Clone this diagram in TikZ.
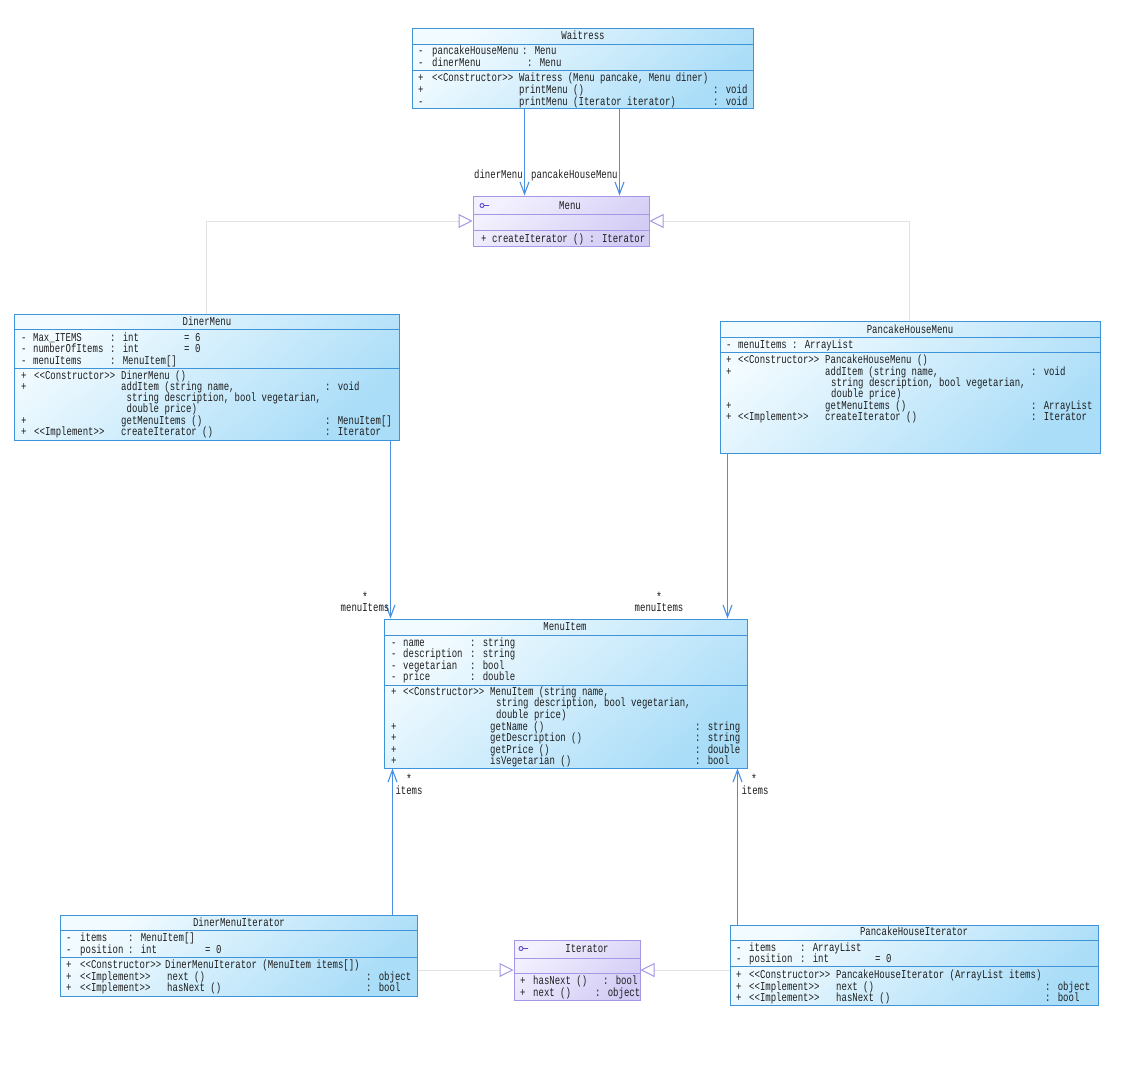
\documentclass[tikz,border=0pt]{standalone}
\usepackage{fontspec}
\usetikzlibrary{arrows.meta,fit}
\newfontfamily\umlmono[FakeStretch=0.75]{Liberation Mono}
\newcommand\umlf{\umlmono\fontsize{12pt}{12pt}\selectfont}
\newcounter{tn}
\newcommand\tx[3]{\stepcounter{tn}\node[txt] (t\arabic{tn}) at (#1,#2) {#3};}
\newcommand\tcx[3]{\stepcounter{tn}\node[ctr] (t\arabic{tn}) at (#1,#2) {#3};}
\definecolor{clsborder}{HTML}{3F93D8}
\definecolor{clstop}{HTML}{F2FBFF}
\definecolor{clsbot}{HTML}{AADDF8}
\definecolor{ifcborder}{HTML}{A397E6}
\definecolor{ifctop}{HTML}{F3F1FF}
\definecolor{ifcbot}{HTML}{D3CDF5}
\definecolor{ifcicon}{HTML}{5A48C8}
\definecolor{txtcol}{HTML}{1E1E1E}
\definecolor{arrcol}{HTML}{4A90E2}
\definecolor{realcol}{HTML}{E3E3E3}
\tikzset{
  cls/.style={draw=clsborder, line width=1pt, inner sep=0pt, top color=clstop, bottom color=clsbot, shading angle=40},
  ifc/.style={draw=ifcborder, line width=1pt, inner sep=0pt, top color=ifctop, bottom color=ifcbot, shading angle=40},
  clssep/.style={draw=clsborder, line width=1pt},
  ifcsep/.style={draw=ifcborder, line width=1pt},
  txt/.style={anchor=mid west, inner sep=0pt, font=\umlf, text=txtcol, yshift=-1.2pt},
  ctr/.style={anchor=mid, inner sep=0pt, font=\umlf, text=txtcol, yshift=-1.2pt},
  lbr/.style={anchor=mid east, inner sep=0pt, font=\umlf, text=txtcol, yshift=-1.2pt},
  star/.style={anchor=base, inner sep=0pt, text height=3pt, text depth=0pt, font=\umlmono\fontsize{13pt}{13pt}\selectfont, text=txtcol},
  assoc/.style={draw=arrcol, line width=1.1pt, -{Straight Barb[length=12pt,width=9pt,line width=1.1pt]}},
  realz/.style={draw=realcol, line width=1pt, -{Triangle[open,length=14pt,width=14pt,color=ifcborder,fill=white,line width=1pt]}},
}
\begin{document}
\begin{tikzpicture}[x=1pt,y=-1pt]
\useasboundingbox[fill=white] (0,0) rectangle (1130,1072);

% ---------------- boxes ----------------
\node[cls, fit={(412,28) (753,108)}] (waitress) {};
\draw[clssep] (412,44) -- (753,44);
\draw[clssep] (412,70) -- (753,70);

\node[ifc, fit={(473,196) (649,246)}] (menu) {};
\draw[ifcsep] (473,214) -- (649,214);
\draw[ifcsep] (473,230) -- (649,230);

\node[cls, fit={(14,314) (399,440)}] (dinermenu) {};
\draw[clssep] (14,329) -- (399,329);
\draw[clssep] (14,368) -- (399,368);

\node[cls, fit={(720,321) (1100,453)}] (pancakemenu) {};
\draw[clssep] (720,337) -- (1100,337);
\draw[clssep] (720,352) -- (1100,352);

\node[cls, fit={(384,619) (747,768)}] (menuitem) {};
\draw[clssep] (384,635) -- (747,635);
\draw[clssep] (384,685) -- (747,685);

\node[cls, fit={(60,915) (417,996)}] (dmiter) {};
\draw[clssep] (60,930) -- (417,930);
\draw[clssep] (60,957) -- (417,957);

\node[ifc, fit={(514,940) (640,1000)}] (iterator) {};
\draw[ifcsep] (514,958) -- (640,958);
\draw[ifcsep] (514,973) -- (640,973);

\node[cls, fit={(730,925) (1098,1005)}] (phiter) {};
\draw[clssep] (730,940) -- (1098,940);
\draw[clssep] (730,966) -- (1098,966);

% interface icons
\draw[ifcicon, line width=0.9pt] (482,205.5) circle (2) (484,205.5) -- (489,205.5);
\draw[ifcicon, line width=0.9pt] (521,948.5) circle (2) (523,948.5) -- (528,948.5);

% ---------------- Waitress ----------------
\tcx{583}{36.5}{Waitress}
\tx{418}{51.5}{-}\tx{432}{51.5}{pancakeHouseMenu}\tx{522}{51.5}{: Menu}
\tx{418}{63.5}{-}\tx{432}{63.5}{dinerMenu}\tx{527}{63.5}{: Menu}
\tx{418}{78.5}{+}\tx{432}{78.5}{<<Constructor>>}\tx{519}{78.5}{Waitress (Menu pancake, Menu diner)}
\tx{418}{90.5}{+}\tx{519}{90.5}{printMenu ()}\tx{713}{90.5}{: void}
\tx{418}{102}{-}\tx{519}{102}{printMenu (Iterator iterator)}\tx{713}{102}{: void}

% ---------------- Menu ----------------
\tcx{570}{206}{Menu}
\tx{481}{239}{+}\tx{492}{239}{createIterator () : Iterator}

% ---------------- DinerMenu ----------------
\tcx{207}{322.5}{DinerMenu}
\tx{21}{338}{-}\tx{33}{338}{Max\_ITEMS}\tx{110}{338}{: int}\tx{184}{338}{= 6}
\tx{21}{349.5}{-}\tx{33}{349.5}{numberOfItems}\tx{110}{349.5}{: int}\tx{184}{349.5}{= 0}
\tx{21}{361}{-}\tx{33}{361}{menuItems}\tx{110}{361}{: MenuItem[]}
\tx{21}{376.5}{+}\tx{34}{376.5}{<<Constructor>>}\tx{121}{376.5}{DinerMenu ()}
\tx{21}{387.5}{+}\tx{121}{387.5}{addItem (string name,}\tx{325}{387.5}{: void}
\tx{126.5}{398.5}{string description, bool vegetarian,}
\tx{126.5}{409.5}{double price)}
\tx{21}{421}{+}\tx{121}{421}{getMenuItems ()}\tx{325}{421}{: MenuItem[]}
\tx{21}{432.5}{+}\tx{34}{432.5}{<<Implement>>}\tx{121}{432.5}{createIterator ()}\tx{325}{432.5}{: Iterator}

% ---------------- PancakeHouseMenu ----------------
\tcx{910}{330}{PancakeHouseMenu}
\tx{726}{345}{-}\tx{738}{345}{menuItems : ArrayList}
\tx{726}{360.5}{+}\tx{738}{360.5}{<<Constructor>>}\tx{825}{360.5}{PancakeHouseMenu ()}
\tx{726}{372}{+}\tx{825}{372}{addItem (string name,}\tx{1031}{372}{: void}
\tx{831}{383.5}{string description, bool vegetarian,}
\tx{831}{394.5}{double price)}
\tx{726}{406}{+}\tx{825}{406}{getMenuItems ()}\tx{1031}{406}{: ArrayList}
\tx{726}{417.5}{+}\tx{738}{417.5}{<<Implement>>}\tx{825}{417.5}{createIterator ()}\tx{1031}{417.5}{: Iterator}

% ---------------- MenuItem ----------------
\tcx{565}{627.5}{MenuItem}
\tx{391}{643}{-}\tx{403}{643}{name}\tx{470}{643}{: string}
\tx{391}{654.5}{-}\tx{403}{654.5}{description}\tx{470}{654.5}{: string}
\tx{391}{666}{-}\tx{403}{666}{vegetarian}\tx{470}{666}{: bool}
\tx{391}{677.5}{-}\tx{403}{677.5}{price}\tx{470}{677.5}{: double}
\tx{391}{692.5}{+}\tx{403}{692.5}{<<Constructor>>}\tx{490}{692.5}{MenuItem (string name,}
\tx{496}{703.5}{string description, bool vegetarian,}
\tx{496}{715}{double price)}
\tx{391}{727}{+}\tx{490}{727}{getName ()}\tx{695}{727}{: string}
\tx{391}{738.5}{+}\tx{490}{738.5}{getDescription ()}\tx{695}{738.5}{: string}
\tx{391}{750}{+}\tx{490}{750}{getPrice ()}\tx{695}{750}{: double}
\tx{391}{761.5}{+}\tx{490}{761.5}{isVegetarian ()}\tx{695}{761.5}{: bool}

% ---------------- DinerMenuIterator ----------------
\tcx{239}{923}{DinerMenuIterator}
\tx{66}{938.5}{-}\tx{80}{938.5}{items}\tx{128}{938.5}{: MenuItem[]}
\tx{66}{950}{-}\tx{80}{950}{position}\tx{128}{950}{: int}\tx{205}{950}{= 0}
\tx{66}{965}{+}\tx{80}{965}{<<Constructor>>}\tx{165}{965}{DinerMenuIterator (MenuItem items[])}
\tx{66}{977}{+}\tx{80}{977}{<<Implement>>}\tx{167}{977}{next ()}\tx{366}{977}{: object}
\tx{66}{988.5}{+}\tx{80}{988.5}{<<Implement>>}\tx{167}{988.5}{hasNext ()}\tx{366}{988.5}{: bool}

% ---------------- Iterator ----------------
\tcx{587}{949}{Iterator}
\tx{520}{981.5}{+}\tx{533}{981.5}{hasNext ()}\tx{603}{981.5}{: bool}
\tx{520}{993.5}{+}\tx{533}{993.5}{next ()}\tx{595}{993.5}{: object}

% ---------------- PancakeHouseIterator ----------------
\tcx{914}{932.5}{PancakeHouseIterator}
\tx{736}{948}{-}\tx{749}{948}{items}\tx{800}{948}{: ArrayList}
\tx{736}{959.5}{-}\tx{749}{959.5}{position}\tx{800}{959.5}{: int}\tx{875}{959.5}{= 0}
\tx{736}{975}{+}\tx{749}{975}{<<Constructor>>}\tx{836}{975}{PancakeHouseIterator (ArrayList items)}
\tx{736}{987}{+}\tx{749}{987}{<<Implement>>}\tx{836}{987}{next ()}\tx{1045}{987}{: object}
\tx{736}{998.5}{+}\tx{749}{998.5}{<<Implement>>}\tx{836}{998.5}{hasNext ()}\tx{1045}{998.5}{: bool}

% ---------------- connectors ----------------
\draw[realz] ([xshift=193pt]dinermenu.north west) |- (menu.west);
\draw[realz] ([xshift=190pt]pancakemenu.north west) |- (menu.east);
\draw[realz] (dmiter.east |- iterator.west) -- (iterator.west);
\draw[realz] (phiter.west |- iterator.east) -- (iterator.east);

\draw[assoc] ([xshift=113pt]waitress.south west) -- ([xshift=52pt]menu.north west);
\draw[assoc] ([xshift=208pt]waitress.south west) -- ([xshift=147pt]menu.north west);
\draw[assoc] ([xshift=377pt]dinermenu.south west) -- ([xshift=7pt]menuitem.north west);
\draw[assoc] ([xshift=8pt]pancakemenu.south west) -- ([xshift=344pt]menuitem.north west);
\draw[assoc] ([xshift=333pt]dmiter.north west) -- ([xshift=9pt]menuitem.south west);
\draw[assoc] ([xshift=8pt]phiter.north west) -- ([xshift=354pt]menuitem.south west);

% connector labels
\node[lbr] (l1) at (523,175) {dinerMenu};
\node[txt] (l2) at (531,175) {pancakeHouseMenu};
\node[star] (l3) at (365,601.5) {*};
\node[ctr] (l4) at (365,608.5) {menuItems};
\node[star] (l5) at (659,601.5) {*};
\node[ctr] (l6) at (659,608.5) {menuItems};
\node[star] (l7) at (409,783) {*};
\node[ctr] (l8) at (409,791.5) {items};
\node[star] (l9) at (754,783) {*};
\node[ctr] (l10) at (755,791.5) {items};
\end{tikzpicture}
\end{document}
